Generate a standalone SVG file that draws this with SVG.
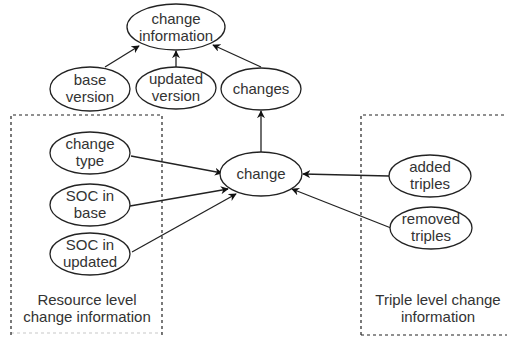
<svg xmlns="http://www.w3.org/2000/svg" width="507" height="337" viewBox="0 0 507 337">
<defs>
<marker id="arr" viewBox="0 0 10 10" refX="9" refY="5" markerWidth="8" markerHeight="8" markerUnits="userSpaceOnUse" orient="auto">
<path d="M0,0 L10,5 L0,10 L3,5 Z" fill="#111"/>
</marker>
</defs>
<style>
.n{fill:#fff;stroke:#222;stroke-width:1.3}
.t{font-family:"Liberation Sans",Arial,sans-serif;font-size:15px;fill:#333;text-anchor:middle}
.c{stroke:#222;stroke-width:1.3;fill:none;marker-end:url(#arr)}
.box{fill:none;stroke:#222;stroke-width:1.2;stroke-dasharray:3,3}
</style>
<rect width="507" height="337" fill="#fff"/>
<g id="boxes">
<path class="box" d="M11,335 V115 H162 V335"/>
<path class="box" d="M361,335 V115 H507"/>
<path class="box" d="M11,333 H162" stroke-opacity="0.25"/>
<path class="box" d="M361,335 H507"/>
</g>
<g id="connectors">
<line class="c" x1="105" y1="67" x2="139" y2="46"/>
<line class="c" x1="176" y1="67" x2="176" y2="51"/>
<line class="c" x1="261" y1="67" x2="213" y2="45"/>
<line class="c" x1="261" y1="152" x2="261" y2="111"/>
<line class="c" x1="131" y1="156" x2="222" y2="173"/>
<line class="c" x1="130" y1="206" x2="228" y2="189"/>
<line class="c" x1="132" y1="252" x2="236" y2="194"/>
<line class="c" x1="389" y1="176" x2="303" y2="174"/>
<line class="c" x1="391" y1="228" x2="292" y2="189"/>
</g>
<g id="change-information"><ellipse class="n" cx="176" cy="27" rx="49" ry="23"/><text class="t" x="176" y="24">change</text><text class="t" x="176" y="41">information</text></g>
<g id="base-version"><ellipse class="n" cx="90" cy="89" rx="40" ry="22"/><text class="t" x="90" y="85">base</text><text class="t" x="90" y="102">version</text></g>
<g id="updated-version"><ellipse class="n" cx="176" cy="88" rx="40" ry="21"/><text class="t" x="176" y="84">updated</text><text class="t" x="176" y="101">version</text></g>
<g id="changes"><ellipse class="n" cx="261" cy="89" rx="40" ry="21"/><text class="t" x="261" y="94">changes</text></g>
<g id="change"><ellipse class="n" cx="261" cy="174" rx="41" ry="22"/><text class="t" x="261" y="179">change</text></g>
<g id="change-type"><ellipse class="n" cx="90" cy="153" rx="40" ry="21"/><text class="t" x="90" y="149">change</text><text class="t" x="90" y="166">type</text></g>
<g id="soc-in-base"><ellipse class="n" cx="90" cy="205" rx="40" ry="21"/><text class="t" x="90" y="201">SOC in</text><text class="t" x="90" y="218">base</text></g>
<g id="soc-in-updated"><ellipse class="n" cx="90" cy="254" rx="40" ry="21"/><text class="t" x="90" y="250">SOC in</text><text class="t" x="90" y="267">updated</text></g>
<g id="added-triples"><ellipse class="n" cx="430" cy="176" rx="41" ry="21"/><text class="t" x="430" y="172">added</text><text class="t" x="430" y="189">triples</text></g>
<g id="removed-triples"><ellipse class="n" cx="431" cy="228" rx="41" ry="21"/><text class="t" x="431" y="224">removed</text><text class="t" x="431" y="241">triples</text></g>
<g id="resource-label"><text class="t" x="87" y="305">Resource level</text><text class="t" x="87" y="322">change information</text></g>
<g id="triple-label"><text class="t" x="438" y="305">Triple level change</text><text class="t" x="438" y="322">information</text></g>
</svg>
